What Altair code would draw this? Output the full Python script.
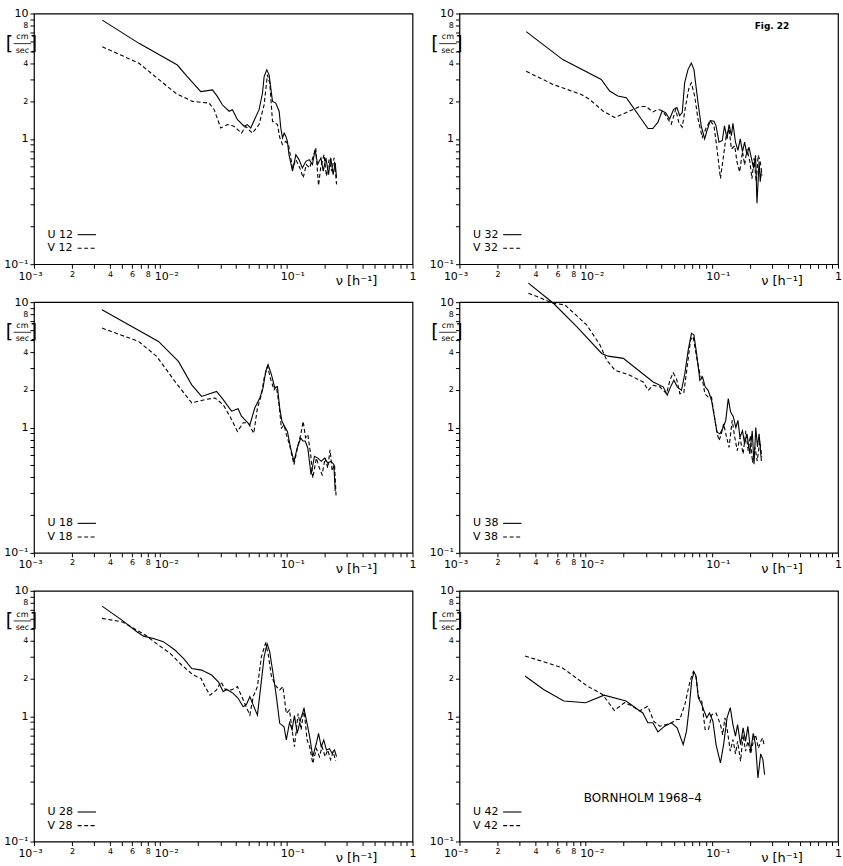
import altair as alt
import pandas as pd

# ---------------- data ----------------
U12_f = [0.00348, 0.0068, 0.0137, 0.0164, 0.0210, 0.0260, 0.0284, 0.0311, 0.0352, 0.0374, 0.0410, 0.0463, 0.0491, 0.0522, 0.0608, 0.0647, 0.0667, 0.0700, 0.0730, 0.0777, 0.0825, 0.0877, 0.0904, 0.0933, 0.0962, 0.099, 0.102, 0.105, 0.112, 0.119, 0.126, 0.134, 0.143, 0.152, 0.161, 0.169, 0.177, 0.188, 0.196, 0.206, 0.216, 0.225, 0.235, 0.244, 0.25]
U12_a = [8.85, 5.78, 3.88, 3.14, 2.38, 2.46, 2.18, 1.87, 1.66, 1.71, 1.42, 1.26, 1.30, 1.22, 1.71, 2.31, 3.14, 3.55, 3.24, 1.99, 1.93, 1.66, 1.22, 1.02, 1.11, 1.05, 0.955, 0.748, 0.552, 0.748, 0.683, 0.586, 0.662, 0.683, 0.624, 0.82, 0.624, 0.705, 0.552, 0.705, 0.519, 0.705, 0.519, 0.643, 0.489]
V12_f = [0.00348, 0.0068, 0.0095, 0.0133, 0.0180, 0.0244, 0.0268, 0.0302, 0.0341, 0.0385, 0.0441, 0.0477, 0.0538, 0.0608, 0.0667, 0.0708, 0.0739, 0.0777, 0.0851, 0.0888, 0.0933, 0.099, 0.104, 0.112, 0.119, 0.128, 0.136, 0.144, 0.153, 0.163, 0.171, 0.180, 0.187, 0.199, 0.208, 0.218, 0.229, 0.239, 0.25]
V12_a = [5.43, 4.01, 3.04, 2.31, 1.99, 1.93, 1.71, 1.22, 1.30, 1.26, 1.11, 1.26, 1.11, 1.30, 1.87, 3.24, 2.78, 1.38, 1.30, 1.02, 0.90, 0.955, 0.90, 0.586, 0.683, 0.586, 0.489, 0.624, 0.586, 0.72, 0.845, 0.424, 0.586, 0.748, 0.505, 0.683, 0.552, 0.705, 0.433]

U32_f = [0.00338, 0.00659, 0.0133, 0.0155, 0.0180, 0.0210, 0.0244, 0.0276, 0.0312, 0.0341, 0.0374, 0.0404, 0.0430, 0.0463, 0.0498, 0.0529, 0.0556, 0.0583, 0.0609, 0.0647, 0.0688, 0.0722, 0.0777, 0.0824, 0.0877, 0.0915, 0.0972, 0.104, 0.108, 0.114, 0.121, 0.126, 0.132, 0.137, 0.143, 0.147, 0.154, 0.161, 0.168, 0.175, 0.182, 0.190, 0.197, 0.206, 0.215, 0.222, 0.228, 0.237, 0.242, 0.247]
U32_a = [7.17, 4.29, 2.98, 2.41, 2.20, 2.13, 1.72, 1.44, 1.21, 1.21, 1.36, 1.67, 1.62, 1.44, 1.72, 1.78, 1.53, 1.62, 2.80, 3.57, 4.03, 3.57, 1.95, 1.27, 1.0, 1.16, 1.40, 1.38, 1.27, 0.94, 0.97, 1.27, 1.0, 1.30, 1.06, 1.33, 0.94, 0.81, 1.0, 0.79, 0.94, 0.74, 0.86, 0.70, 0.58, 0.74, 0.307, 0.66, 0.455, 0.55]
V32_f = [0.00338, 0.0055, 0.00923, 0.0107, 0.0137, 0.0170, 0.0210, 0.0268, 0.0302, 0.0341, 0.0374, 0.0409, 0.0449, 0.0477, 0.0517, 0.0548, 0.0583, 0.0620, 0.0659, 0.0688, 0.0731, 0.0777, 0.0840, 0.0904, 0.097, 0.104, 0.110, 0.117, 0.124, 0.130, 0.137, 0.143, 0.152, 0.158, 0.166, 0.175, 0.182, 0.190, 0.200, 0.208, 0.216, 0.225, 0.233, 0.242, 0.25]
V32_a = [3.46, 2.72, 2.26, 2.07, 1.67, 1.48, 1.62, 1.81, 1.81, 1.64, 1.72, 1.67, 1.44, 1.31, 1.72, 1.35, 1.24, 1.83, 2.56, 2.80, 2.20, 1.44, 1.03, 1.23, 1.40, 1.27, 0.83, 0.483, 0.74, 1.06, 1.20, 0.83, 0.88, 0.66, 0.545, 0.79, 0.62, 0.83, 0.66, 0.48, 0.70, 0.455, 0.74, 0.66, 0.51]

U18_f = [0.00346, 0.0097, 0.01396, 0.0178, 0.0213, 0.0280, 0.0316, 0.0368, 0.0415, 0.0441, 0.0483, 0.0514, 0.0562, 0.0616, 0.0654, 0.0687, 0.0717, 0.0762, 0.081, 0.085, 0.0886, 0.0924, 0.097, 0.102, 0.108, 0.115, 0.122, 0.130, 0.135, 0.141, 0.148, 0.157, 0.167, 0.178, 0.189, 0.201, 0.213, 0.226, 0.238, 0.244]
U18_a = [8.69, 4.86, 3.37, 2.19, 1.77, 1.94, 1.67, 1.35, 1.41, 1.23, 1.12, 1.05, 1.43, 1.72, 2.07, 2.81, 3.17, 2.64, 2.07, 2.12, 1.43, 1.12, 1.02, 0.93, 0.687, 0.537, 0.687, 0.824, 0.78, 0.78, 0.687, 0.42, 0.589, 0.57, 0.537, 0.57, 0.52, 0.537, 0.507, 0.31]
V18_f = [0.00346, 0.00675, 0.0094, 0.0131, 0.0178, 0.0227, 0.0272, 0.0316, 0.0357, 0.041, 0.0455, 0.0498, 0.0552, 0.059, 0.0635, 0.0667, 0.0709, 0.0752, 0.080, 0.0834, 0.0875, 0.0914, 0.096, 0.10, 0.106, 0.115, 0.124, 0.130, 0.136, 0.142, 0.148, 0.156, 0.162, 0.173, 0.183, 0.192, 0.203, 0.213, 0.222, 0.231, 0.241, 0.248]
V18_a = [6.21, 4.86, 3.69, 2.33, 1.57, 1.67, 1.72, 1.52, 1.23, 0.93, 1.09, 1.09, 0.90, 1.43, 1.83, 2.48, 3.07, 2.42, 2.0, 2.12, 1.52, 0.99, 1.05, 0.877, 0.73, 0.506, 0.73, 0.877, 1.12, 0.83, 0.877, 0.608, 0.396, 0.57, 0.475, 0.42, 0.57, 0.475, 0.665, 0.45, 0.507, 0.283]

U38_f = [0.00352, 0.00555, 0.0085, 0.0134, 0.0151, 0.0199, 0.0224, 0.0343, 0.0412, 0.0443, 0.0471, 0.0500, 0.0532, 0.0575, 0.0611, 0.0650, 0.069, 0.0721, 0.0757, 0.0804, 0.0844, 0.0886, 0.0935, 0.0994, 0.106, 0.110, 0.116, 0.123, 0.129, 0.135, 0.141, 0.148, 0.155, 0.161, 0.167, 0.175, 0.182, 0.190, 0.200, 0.209, 0.216, 0.223, 0.230, 0.237, 0.247]
U38_a = [14.2, 9.8, 6.38, 3.90, 3.71, 3.56, 3.24, 2.31, 2.11, 1.81, 2.11, 2.38, 2.11, 1.98, 2.69, 4.15, 5.64, 5.48, 3.90, 2.38, 2.53, 2.11, 1.98, 1.65, 1.14, 0.918, 0.89, 1.0, 1.14, 1.70, 1.33, 1.22, 1.0, 1.14, 0.836, 0.94, 0.74, 0.89, 0.615, 0.94, 0.51, 1.0, 0.70, 0.89, 0.54]
V38_f = [0.00352, 0.00555, 0.00686, 0.0102, 0.0130, 0.0147, 0.0171, 0.0224, 0.0286, 0.0313, 0.0343, 0.0388, 0.0438, 0.0465, 0.0494, 0.0525, 0.0558, 0.060, 0.0638, 0.0678, 0.0711, 0.0757, 0.0804, 0.0844, 0.0881, 0.0935, 0.0994, 0.109, 0.114, 0.119, 0.124, 0.131, 0.137, 0.145, 0.152, 0.159, 0.167, 0.177, 0.186, 0.194, 0.202, 0.210, 0.220, 0.229, 0.24, 0.249]
V38_a = [11.8, 9.8, 9.5, 6.58, 4.55, 3.44, 2.86, 2.61, 2.31, 1.98, 2.17, 2.11, 1.86, 2.38, 2.73, 2.45, 1.86, 1.90, 3.05, 4.99, 5.31, 3.66, 2.69, 2.38, 1.86, 1.75, 1.75, 0.946, 0.787, 0.89, 1.07, 0.836, 0.695, 1.14, 0.836, 0.654, 0.836, 0.615, 0.94, 0.654, 0.86, 0.527, 0.695, 0.54, 0.78, 0.58]

U28_f = [0.00346, 0.00498, 0.00654, 0.00738, 0.00885, 0.0106, 0.0131, 0.0153, 0.0178, 0.0213, 0.0256, 0.0289, 0.0316, 0.0336, 0.0379, 0.0415, 0.0455, 0.0483, 0.0514, 0.0546, 0.059, 0.0627, 0.0667, 0.0704, 0.0738, 0.0785, 0.0834, 0.0886, 0.0959, 0.10, 0.106, 0.111, 0.116, 0.122, 0.130, 0.138, 0.146, 0.153, 0.162, 0.173, 0.180, 0.189, 0.198, 0.208, 0.22, 0.23, 0.241, 0.25]
U28_a = [7.55, 5.84, 4.71, 4.35, 4.17, 3.93, 3.37, 2.89, 2.40, 2.33, 2.13, 1.88, 1.57, 1.64, 1.52, 1.39, 1.19, 1.24, 1.43, 1.23, 1.02, 1.72, 2.98, 3.80, 3.27, 2.19, 1.43, 0.877, 0.824, 0.646, 0.89, 0.78, 1.01, 0.73, 0.95, 1.15, 0.877, 0.687, 0.475, 0.608, 0.73, 0.57, 0.646, 0.537, 0.55, 0.507, 0.537, 0.475]
V28_f = [0.00346, 0.00498, 0.00654, 0.00762, 0.0097, 0.012, 0.0148, 0.0183, 0.0211, 0.0227, 0.0248, 0.028, 0.0303, 0.033, 0.0368, 0.041, 0.0455, 0.0514, 0.0546, 0.059, 0.0635, 0.0683, 0.0717, 0.0762, 0.0834, 0.0886, 0.094, 0.10, 0.106, 0.111, 0.116, 0.124, 0.131, 0.138, 0.146, 0.153, 0.162, 0.173, 0.183, 0.192, 0.203, 0.213, 0.224, 0.235, 0.246]
V28_a = [6.03, 5.66, 4.86, 4.44, 3.69, 3.17, 2.56, 2.13, 2.0, 1.72, 1.47, 1.62, 1.88, 1.62, 1.62, 1.72, 1.35, 1.02, 1.43, 1.72, 2.98, 3.80, 3.17, 2.07, 1.72, 1.62, 1.72, 1.05, 1.12, 0.78, 0.571, 1.05, 0.78, 1.15, 0.646, 0.571, 0.42, 0.55, 0.475, 0.571, 0.475, 0.537, 0.45, 0.52, 0.44]

U42_f = [0.00331, 0.00464, 0.00671, 0.0100, 0.0140, 0.0209, 0.0259, 0.0284, 0.0311, 0.0341, 0.0374, 0.0423, 0.0479, 0.0531, 0.0593, 0.063, 0.0662, 0.0692, 0.0722, 0.075, 0.0782, 0.0832, 0.0868, 0.0912, 0.0958, 0.102, 0.108, 0.117, 0.124, 0.132, 0.140, 0.147, 0.154, 0.160, 0.169, 0.177, 0.185, 0.193, 0.203, 0.213, 0.222, 0.232, 0.244, 0.254, 0.262]
U42_a = [2.09, 1.63, 1.32, 1.28, 1.47, 1.32, 1.13, 1.06, 0.885, 0.885, 0.75, 0.832, 0.885, 0.807, 0.593, 0.759, 1.17, 1.91, 2.26, 2.09, 1.40, 1.24, 1.10, 0.97, 1.06, 0.912, 0.593, 0.424, 0.593, 0.97, 1.17, 0.857, 0.692, 0.857, 0.593, 0.807, 0.63, 0.83, 0.525, 0.73, 0.593, 0.321, 0.50, 0.45, 0.341]
V42_f = [0.00331, 0.0065, 0.0103, 0.0136, 0.0169, 0.0203, 0.0236, 0.0267, 0.0311, 0.0346, 0.0386, 0.0437, 0.0479, 0.0525, 0.0557, 0.0612, 0.0672, 0.0713, 0.075, 0.0782, 0.0832, 0.0885, 0.094, 0.10, 0.108, 0.117, 0.122, 0.127, 0.133, 0.140, 0.147, 0.154, 0.160, 0.169, 0.177, 0.185, 0.193, 0.203, 0.213, 0.222, 0.234, 0.244, 0.253, 0.259]
V42_a = [3.02, 2.44, 1.74, 1.49, 1.11, 1.28, 1.20, 1.10, 1.20, 0.912, 0.832, 0.857, 0.885, 0.94, 0.94, 1.24, 1.91, 2.26, 2.04, 1.44, 1.32, 0.782, 0.782, 1.03, 1.06, 0.857, 0.71, 0.97, 0.76, 0.525, 0.65, 0.50, 0.63, 0.437, 0.71, 0.525, 0.63, 0.50, 0.63, 0.71, 0.555, 0.63, 0.67, 0.593]

# axis tick values and labels
X_TICKS = [round(k * 10.0 ** e, 6) for e in (-3, -2, -1) for k in range(1, 10)] + [1.0]
X_LABELS = {0.001: "10⁻³", 0.002: "2", 0.004: "4", 0.006: "6", 0.008: "8",
            0.01: "10⁻²", 0.1: "10⁻¹", 1.0: "1"}
Y_TICKS = [round(k * 10.0 ** e, 6) for e in (-1, 0) for k in range(1, 10)] + [10.0]
Y_LABELS = {10.0: "10", 8.0: "8", 4.0: "4", 2.0: "2", 1.0: "1", 0.1: "10⁻¹"}

# annotation placement (data coordinates)
LEG_X, LEG_YU, LEG_YV = 0.00128, 0.172, 0.134
LEG_X1, LEG_X2 = 0.00222, 0.0031
UNIT_X, UNIT_CM_Y, UNIT_SEC_Y, UNIT_BAR_Y = 0.00081, 6.45, 5.05, 5.75
UNIT_BAR_X1, UNIT_BAR_X2 = 0.00069, 0.00095
BR_L_X, BR_R_X = 0.00064, 0.00099
NU_X, NU_Y = 0.36, 0.074

FONT = "DejaVu Sans"


def label_expr(mapping):
    parts = []
    for v, t in mapping.items():
        parts.append(f"abs(datum.value - {v}) < {v * 0.001} ? '{t}' : ")
    return "".join(parts) + "''"


xscale = alt.Scale(type="log", domain=[0.001, 1], nice=False)
yscale = alt.Scale(type="log", domain=[0.1, 10], nice=False)

DECADE_TEST = "abs(datum.value - 0.01) < 0.0001 || abs(datum.value - 0.1) < 0.001"
MINOR_X_TEST = "datum.value > 0.0015 && datum.value < 0.009"

xaxis = alt.Axis(values=X_TICKS, labelExpr=label_expr(X_LABELS), title=None, grid=False,
                 domain=False, tickSize=4, tickColor="black", labelColor="black",
                 labelFont=FONT, labelOverlap=False, labelFlush=False, labelPadding=2,
                 labelAlign={"condition": {"test": DECADE_TEST, "value": "left"}, "value": "center"},
                 labelOffset={"condition": [{"test": DECADE_TEST, "value": -6},
                                            {"test": "datum.value < 0.0015", "value": -4}], "value": 0},
                 labelFontSize={"condition": {"test": MINOR_X_TEST, "value": 8}, "value": 11})
yaxis = alt.Axis(values=Y_TICKS, labelExpr=label_expr(Y_LABELS), title=None, grid=False,
                 domain=False, tickSize=4, tickColor="black", labelColor="black",
                 labelFont=FONT, labelOverlap=False, labelFlush=False, labelPadding=2,
                 labelFontSize={"condition": {"test": "datum.value > 1.5 && datum.value < 9", "value": 8}, "value": 11})


def X(field):
    return alt.X(field, type="quantitative", scale=xscale, axis=xaxis)


def Y(field):
    return alt.Y(field, type="quantitative", scale=yscale, axis=yaxis)


def panel(num, uf, ua, vf, va, extra=None):
    du = pd.DataFrame({"f": uf, "a": ua})
    dv = pd.DataFrame({"f": vf, "a": va})
    u = alt.Chart(du).mark_line(color="black", strokeWidth=1.1).encode(x=X("f"), y=Y("a"))
    v = alt.Chart(dv).mark_line(color="black", strokeWidth=1.1, strokeDash=[4, 2.5]).encode(x=X("f"), y=Y("a"))

    leg_t = pd.DataFrame({"f": [LEG_X, LEG_X], "a": [LEG_YU, LEG_YV], "t": [f"U {num}", f"V {num}"]})
    legt = alt.Chart(leg_t).mark_text(align="left", baseline="middle", fontSize=11, font=FONT,
                                      color="black").encode(x=X("f"), y=Y("a"), text="t:N")
    lu = alt.Chart(pd.DataFrame({"f": [LEG_X1], "f2": [LEG_X2], "a": [LEG_YU]})).mark_rule(
        color="black", strokeWidth=1.1).encode(x=X("f"), x2="f2", y=Y("a"))
    lv = alt.Chart(pd.DataFrame({"f": [LEG_X1], "f2": [LEG_X2], "a": [LEG_YV]})).mark_rule(
        color="black", strokeWidth=1.1, strokeDash=[4, 2.5]).encode(x=X("f"), x2="f2", y=Y("a"))

    unit = alt.Chart(pd.DataFrame({"f": [UNIT_X, UNIT_X], "a": [UNIT_CM_Y, UNIT_SEC_Y], "t": ["cm", "sec"]})).mark_text(
        fontSize=8, font=FONT, color="black", baseline="middle").encode(x=X("f"), y=Y("a"), text="t:N")
    bar = alt.Chart(pd.DataFrame({"f": [UNIT_BAR_X1], "f2": [UNIT_BAR_X2], "a": [UNIT_BAR_Y]})).mark_rule(
        color="black", strokeWidth=0.8).encode(x=X("f"), x2="f2", y=Y("a"))
    br = alt.Chart(pd.DataFrame({"f": [BR_L_X, BR_R_X], "a": [UNIT_BAR_Y, UNIT_BAR_Y], "t": ["[", "]"]})).mark_text(
        fontSize=19, font=FONT, color="black", baseline="middle").encode(x=X("f"), y=Y("a"), text="t:N")
    nu = alt.Chart(pd.DataFrame({"f": [NU_X], "a": [NU_Y], "t": ["ν [h⁻¹]"]})).mark_text(
        fontSize=13, font=FONT, color="black", baseline="middle").encode(x=X("f"), y=Y("a"), text="t:N")

    layers = [u, v, legt, lu, lv, unit, bar, br, nu]
    if extra is not None:
        layers.append(extra)
    return alt.layer(*layers).properties(width=379, height=251)


fig = alt.Chart(pd.DataFrame({"f": [0.30], "a": [8.0], "t": ["Fig. 22"]})).mark_text(
    fontSize=9, font=FONT, color="black", fontWeight="bold").encode(x=X("f"), y=Y("a"), text="t:N")
born = alt.Chart(pd.DataFrame({"f": [0.0284], "a": [0.222], "t": ["BORNHOLM  1968–4"]})).mark_text(
    fontSize=12, font=FONT, color="black").encode(x=X("f"), y=Y("a"), text="t:N")

p12 = panel("12", U12_f, U12_a, V12_f, V12_a)
p32 = panel("32", U32_f, U32_a, V32_f, V32_a, fig)
p18 = panel("18", U18_f, U18_a, V18_f, V18_a)
p38 = panel("38", U38_f, U38_a, V38_f, V38_a)
p28 = panel("28", U28_f, U28_a, V28_f, V28_a)
p42 = panel("42", U42_f, U42_a, V42_f, V42_a, born)

chart = alt.concat(p12, p32, p18, p38, p28, p42, columns=2,
                   spacing={"row": 38, "column": 47}, bounds="flush").properties(
    padding={"left": 3, "top": 6, "right": 0, "bottom": 0},
    background="white",
).configure_view(stroke="black", strokeWidth=1.2).configure_text(font=FONT)

chart.save("out.html", embed_options={"renderer": "svg", "actions": False})
